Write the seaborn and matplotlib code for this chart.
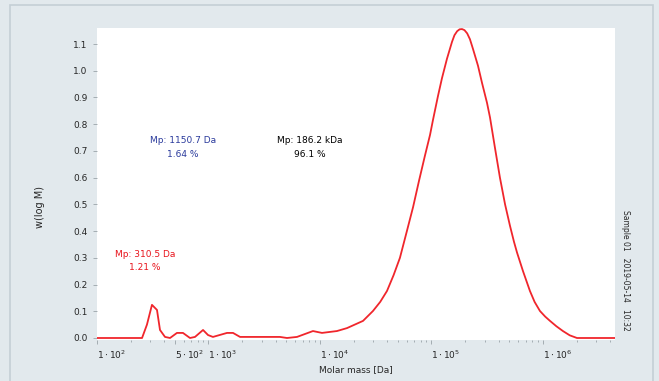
import numpy as np
import pandas as pd
import seaborn as sns
import matplotlib.pyplot as plt
from matplotlib.patches import Rectangle

# distribution curve (log10 of molar mass, weight fraction)
log_mass = [2.00, 2.404, 2.448, 2.493, 2.538, 2.565, 2.61, 2.655, 2.717, 2.771,
            2.834, 2.879, 2.951, 2.996, 3.04, 3.166, 3.22, 3.283, 3.641, 3.704,
            3.794, 3.937, 4.018, 4.152, 4.242, 4.386, 4.475, 4.54, 4.601, 4.66,
            4.717, 4.780, 4.835, 4.888, 4.94, 4.987, 5.013, 5.058, 5.094, 5.139,
            5.184, 5.206, 5.230, 5.252, 5.274, 5.296, 5.320, 5.345, 5.372, 5.417,
            5.453, 5.498, 5.525, 5.57, 5.614, 5.66, 5.704, 5.74, 5.767, 5.821,
            5.883, 5.925, 5.973, 6.02, 6.063, 6.12, 6.179, 6.24, 6.305, 6.646]
w_log_m = [0.0, 0.0, 0.05, 0.124, 0.105, 0.03, 0.004, 0.0, 0.019, 0.019,
           0.0, 0.004, 0.03, 0.011, 0.004, 0.019, 0.019, 0.004, 0.004, 0.0,
           0.004, 0.026, 0.019, 0.026, 0.037, 0.064, 0.101, 0.135, 0.176, 0.235,
           0.300, 0.401, 0.49, 0.588, 0.68, 0.76, 0.815, 0.905, 0.972, 1.045,
           1.108, 1.133, 1.148, 1.155, 1.156, 1.152, 1.140, 1.118, 1.082, 1.019,
           0.955, 0.880, 0.825, 0.71, 0.60, 0.50, 0.42, 0.36, 0.32, 0.25,
           0.176, 0.135, 0.101, 0.08, 0.064, 0.044, 0.026, 0.01, 0.0, 0.0]

x_ticks = [1e2, 5e2, 1e3, 1e4, 1e5, 1e6]
x_tick_labels = [r"$1\cdot10^{2}$", r"$5\cdot10^{2}$", r"$1\cdot10^{3}$",
                 r"$1\cdot10^{4}$", r"$1\cdot10^{5}$", r"$1\cdot10^{6}$"]
y_ticks = [0.0, 0.1, 0.2, 0.3, 0.4, 0.5, 0.6, 0.7, 0.8, 0.9, 1.0, 1.1]

peak_labels = ["Mp: 310.5 Da\n1.21 %", "Mp: 1150.7 Da\n1.64 %", "Mp: 186.2 kDa\n96.1 %"]
peak_colors = ["#e8141c", "#2a3a9c", "black"]
peak_pos = [(0.093, 0.29), (0.166, 0.655), (0.411, 0.655)]

sns.set_style("white")
plt.rcParams['font.family'] = ['DejaVu Sans']

df = pd.DataFrame({"M": np.power(10.0, log_mass), "w": w_log_m})

fig = plt.figure(figsize=(6.59, 3.81), dpi=100)
fig.patch.set_facecolor("#e2e9ed")
fig.patches.append(Rectangle((10 / 659, -0.02), 643 / 659, 1 - 5 / 381 + 0.02,
                             transform=fig.transFigure, fill=False,
                             edgecolor="#c4cfd6", linewidth=1.2))
ax = fig.add_axes([97 / 659, 1 - 340 / 381, 518 / 659, 312 / 381])
ax.set_facecolor("white")

sns.lineplot(data=df, x="M", y="w", color="#f0262c", linewidth=1.3, ax=ax)

ax.set_xscale("log")
ax.set_xlim(1e2, 10 ** 6.646)
ax.set_ylim(-0.0075, 1.16)
ax.set_xticks(x_ticks)
ax.set_xticklabels(x_tick_labels, fontsize=6.5, ha="left")
ax.set_yticks(y_ticks)
ax.set_yticklabels([f"{v:.1f}" for v in y_ticks], fontsize=6.5)
ax.tick_params(axis="both", which="both", color="#9aa3a8", length=3, width=0.6,
               direction="out", bottom=True, left=True, pad=4)
ax.tick_params(axis="x", which="minor", length=1.5)
ax.tick_params(axis="x", which="major", pad=3)
for s in ax.spines.values():
    s.set_visible(False)

ax.set_xlabel("Molar mass [Da]", fontsize=6.5)
ax.set_ylabel("w(log M)", fontsize=7)
ax.xaxis.set_label_coords(0.5, -0.08)
ax.yaxis.set_label_coords(-0.10, 0.426)

for txt, col, (tx, ty) in zip(peak_labels, peak_colors, peak_pos):
    ax.text(tx, ty, txt, transform=ax.transAxes, color=col, fontsize=6.5,
            ha="center", va="top", multialignment="center", linespacing=1.7)

fig.text(0.949, 0.291, "Sample 01   2019-05-14   10:32", rotation=270, fontsize=5.5,
         ha="center", va="center")

fig.savefig("out.png", dpi=100, facecolor=fig.get_facecolor())
